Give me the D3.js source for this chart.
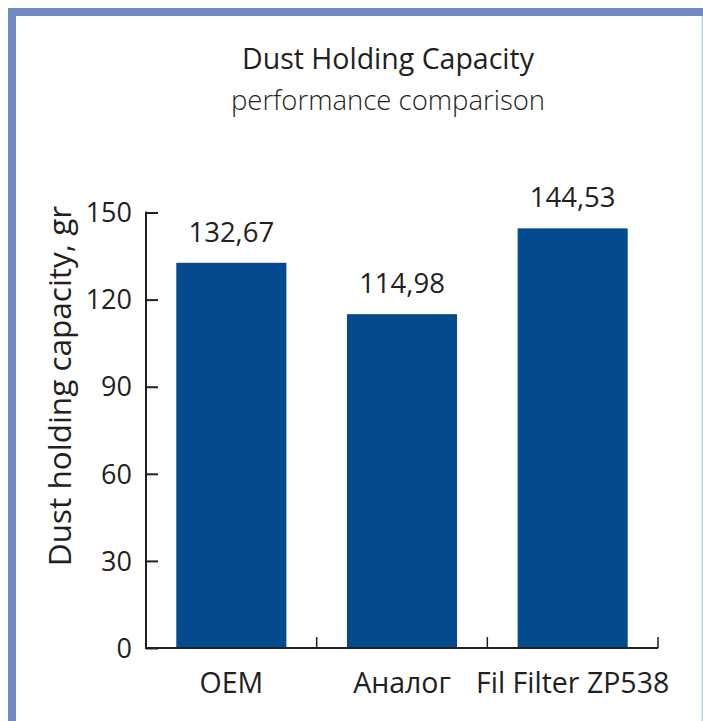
<!DOCTYPE html>
<html>
<head>
<meta charset="utf-8">
<script src="https://cdn.jsdelivr.net/npm/d3@7"></script>
<style>
  body { margin: 0; background: #fff; }
  text { font-family: "Open Sans", "Noto Sans", sans-serif; fill: #231f20; }
</style>
</head>
<body>
<div id="chart"></div>
<script>
// data
var categories = ['OEM', 'Аналог', 'Fil Filter ZP538'];
var values = [132.67, 114.98, 144.53];
var valueLabels = ['132,67', '114,98', '144,53'];
var yTicks = [0, 30, 60, 90, 120, 150];

var width = 703, height = 721;

var svg = d3.select('#chart')
  .append('svg')
  .attr('width', width)
  .attr('height', height);

// frame
var frame = '#7189bd';
svg.append('rect').attr('x', 8).attr('y', 8).attr('width', width - 8).attr('height', 8).attr('fill', frame);
svg.append('rect').attr('x', 8).attr('y', 8).attr('width', 8).attr('height', height - 8).attr('fill', frame);
svg.append('rect').attr('x', 701.5).attr('y', 16).attr('width', 1.5).attr('height', height - 16).attr('fill', '#c3cde4');

// titles
svg.append('text')
  .attr('x', 388).attr('y', 69)
  .attr('text-anchor', 'middle')
  .style('font-size', '28.5px')
  .text('Dust Holding Capacity');

svg.append('text')
  .attr('x', 388).attr('y', 110)
  .attr('text-anchor', 'middle')
  .style('font-size', '27.5px')
  .style('font-weight', 300)
  .text('performance comparison');

// scales
var x = d3.scaleBand()
  .domain(categories)
  .range([146, 658])
  .padding(0);

var y = d3.scaleLinear()
  .domain([0, 150])
  .range([648, 212.5]);

var barW = x.bandwidth() * 0.645;

var graph = svg.append('g');

// bars
graph.selectAll('rect.bar')
  .data(values)
  .enter()
  .append('rect')
  .attr('class', 'bar')
  .attr('x', (d, i) => x(categories[i]) + (x.bandwidth() - barW) / 2)
  .attr('y', d => y(d))
  .attr('width', barW)
  .attr('height', d => y(0) - y(d))
  .attr('fill', '#034b8e');

// value labels
graph.selectAll('text.val')
  .data(values)
  .enter()
  .append('text')
  .attr('class', 'val')
  .attr('x', (d, i) => x(categories[i]) + x.bandwidth() / 2)
  .attr('y', d => y(d) - 21)
  .attr('text-anchor', 'middle')
  .style('font-size', '27.5px')
  .text((d, i) => valueLabels[i]);

// y axis
var yAxis = d3.axisRight(y)
  .tickValues(yTicks)
  .tickSize(12)
  .tickFormat('');

var yg = svg.append('g')
  .attr('transform', 'translate(146,0)')
  .call(yAxis);
yg.select('.domain').remove();
yg.selectAll('.tick line').attr('stroke', '#231f20').attr('stroke-width', 2);

svg.append('line')
  .attr('x1', 146).attr('x2', 146)
  .attr('y1', y(150) - 1).attr('y2', y(0) + 1)
  .attr('stroke', '#231f20').attr('stroke-width', 2);

svg.selectAll('text.ytick')
  .data(yTicks)
  .enter()
  .append('text')
  .attr('class', 'ytick')
  .attr('x', 132)
  .attr('y', d => y(d))
  .attr('dy', '0.36em')
  .attr('text-anchor', 'end')
  .style('font-size', '27px')
  .text(d => d);

// x axis
var bounds = categories.map(c => x(c)).concat([x.range()[1]]);
svg.append('line')
  .attr('x1', 145).attr('x2', 658)
  .attr('y1', y(0)).attr('y2', y(0))
  .attr('stroke', '#231f20').attr('stroke-width', 2);

svg.selectAll('line.xtick')
  .data(bounds.slice(1))
  .enter()
  .append('line')
  .attr('class', 'xtick')
  .attr('x1', d => d).attr('x2', d => d)
  .attr('y1', y(0) - 11).attr('y2', y(0))
  .attr('stroke', '#231f20').attr('stroke-width', 1.5);

svg.selectAll('text.xlab')
  .data(categories)
  .enter()
  .append('text')
  .attr('class', 'xlab')
  .attr('x', d => x(d) + x.bandwidth() / 2)
  .attr('y', 693)
  .attr('text-anchor', 'middle')
  .style('font-size', '28.5px')
  .text(d => d);

// y label
svg.append('text')
  .attr('transform', 'translate(71,386) rotate(-90)')
  .attr('text-anchor', 'middle')
  .style('font-size', '31.5px')
  .text('Dust holding capacity, gr');
</script>
</body>
</html>
